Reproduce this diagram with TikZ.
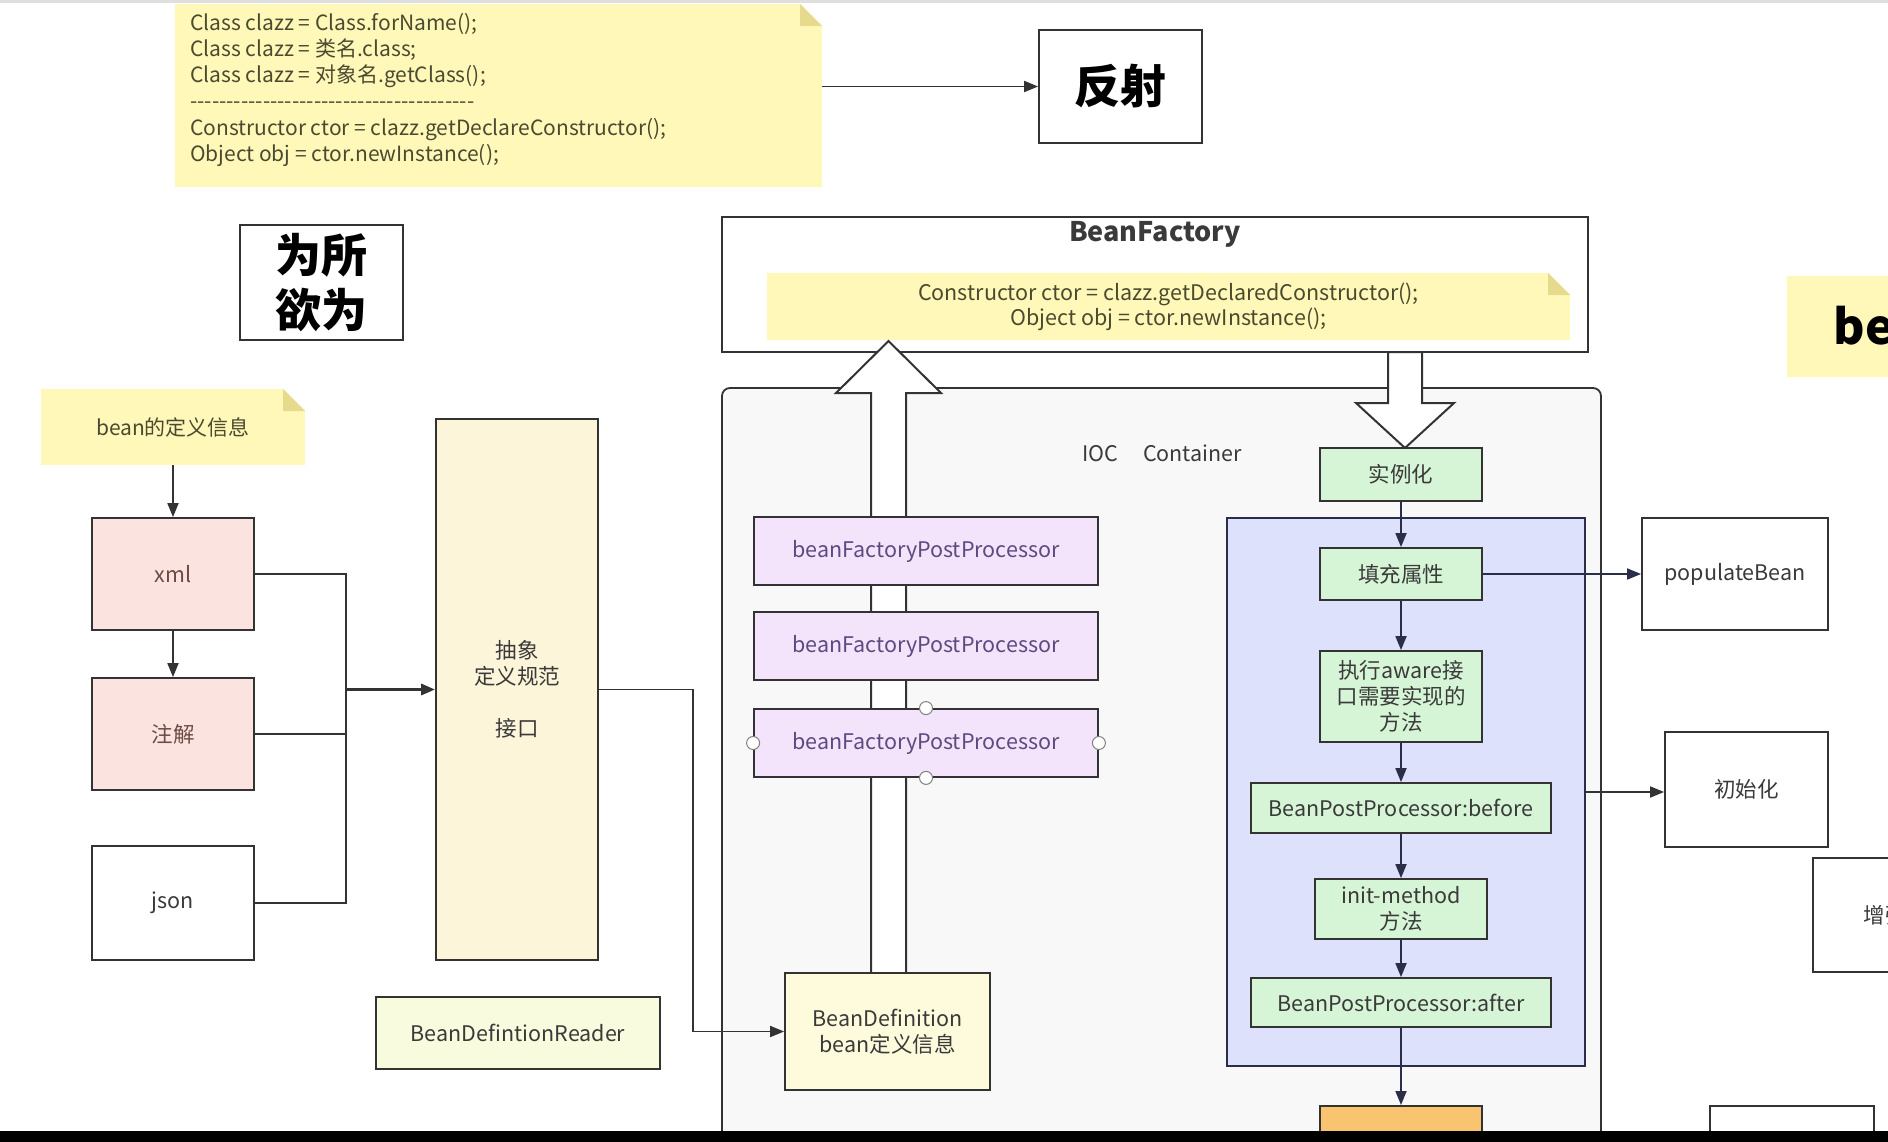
\documentclass[tikz,border=0pt]{standalone}
\usepackage{fontspec}
\setmainfont{Noto Sans CJK SC}
\usetikzlibrary{arrows.meta}

\definecolor{linec}{HTML}{333333}
\definecolor{txt}{HTML}{3A3A3A}
\definecolor{notey}{HTML}{FFF8B8}
\definecolor{foldy}{HTML}{E6DB8C}
\definecolor{notetxt}{HTML}{4A4A30}
\definecolor{pinkc}{HTML}{FBE4DF}
\definecolor{pinktxt}{HTML}{6E4A44}
\definecolor{creamc}{HTML}{FDF5DA}
\definecolor{bdc}{HTML}{FDFBDB}
\definecolor{readerc}{HTML}{F8FBDD}
\definecolor{purplec}{HTML}{F3E4FB}
\definecolor{purpletxt}{HTML}{5E4A80}
\definecolor{greenc}{HTML}{D6F5D6}
\definecolor{bluec}{HTML}{DDE1FC}
\definecolor{navy}{HTML}{2A2E48}
\definecolor{iocc}{HTML}{F8F8F8}
\definecolor{orangec}{HTML}{F8C470}

\newcommand\dashrow{\foreach \k in {1,...,39}{-{}}}

\tikzset{
    box/.style={draw=linec, line width=1.8pt, fill=white, text=txt,
        font=\fontsize{21.5}{26}\selectfont, align=center, inner sep=0pt},
    note/.style={fill=notey, draw=none, text=notetxt, inner sep=0pt,
        font=\fontsize{21}{26}\selectfont,
        path picture={
            \fill[white] (path picture bounding box.north east) -- ++(-22pt,0pt)
                -- ++(22pt,-22pt) -- cycle;
            \fill[foldy] (path picture bounding box.north east) ++(-22pt,0pt)
                -- ++(22pt,-22pt) -- ++(-22pt,0pt) -- cycle;}},
    title/.style={box, font=\bfseries\fontsize{46}{55}\selectfont, text=black},
    greenbox/.style={box, fill=greenc},
    pfp/.style={box, fill=purplec, text=purpletxt, minimum width=344pt,
        minimum height=68pt},
    handle/.style={circle, draw=gray, fill=white, line width=1pt,
        minimum size=13pt, inner sep=0pt},
    ln/.style={draw=linec, line width=1.8pt},
    arr/.style={ln, -{Triangle[length=14pt,width=11pt]}},
    narr/.style={arr, draw=navy},
    hollow/.style={draw=linec, line width=2pt, fill=white},
}

\begin{document}
\begin{tikzpicture}[x=1pt, y=-1pt]
    \useasboundingbox (0,0) rectangle (1888,1142);
    \clip (0,0) rectangle (1888,1142);
    \fill[gray!25] (0,0) rectangle (1888,3);

    % reflection note and title
    \node[note, anchor=north west, minimum width=647pt, minimum height=183pt]
        (refnote) at (175,4) {};
    \node[anchor=north west, inner sep=0pt, align=left, text=notetxt,
        font=\fontsize{21}{26.2}\selectfont] (reftext) at (190,13)
        {Class clazz = Class.forName();\\
         Class clazz = 类名.class;\\
         Class clazz = 对象名.getClass();\\
         \dashrow\\
         Constructor ctor = clazz.getDeclareConstructor();\\
         Object obj = ctor.newInstance();};
    \node[title, minimum width=163pt, minimum height=113pt] (fanshe)
        at (1120.5,86.5) {反射};
    \draw[arr] (refnote.east |- fanshe.west) -- (fanshe.west);

    \node[title, minimum width=163pt, minimum height=115pt] (wsyw)
        at (321.5,282.5) {为所\\欲为};

    % ioc container and bean factory
    \draw[line width=1.8pt, draw=linec, fill=iocc, rounded corners=8pt]
        (722,388) rectangle (1601,1200);
    \node[text=txt, font=\fontsize{21.5}{26}\selectfont] (ioclabel)
        at (1162,453) {IOC\hspace{25pt}Container};

    \node[box, minimum width=866pt, minimum height=135pt] (bf) at (1155,284.5) {};
    \node[font=\bfseries\fontsize{27}{30}\selectfont, text=txt] (bftitle)
        at (1155,234) {BeanFactory};
    \node[note, minimum width=803pt, minimum height=67pt, align=center,
        font=\fontsize{21.5}{25}\selectfont] (bfnote) at (1168.5,306.5)
        {Constructor ctor = clazz.getDeclaredConstructor();\\
         Object obj = ctor.newInstance();};

    \fill[notey] (1787,276) rectangle (1900,377);
    \node[anchor=west, font=\bfseries\fontsize{48}{55}\selectfont, text=black]
        (benote) at (1830,326) {be};

    % block arrows
    \draw[hollow] (871,973) -- (871,393) -- (836,393) -- (888.5,341)
        -- (941,393) -- (906,393) -- (906,973) -- cycle;
    \draw[hollow] (1388,352) -- (1388,403) -- (1356,403) -- (1405,448)
        -- (1454,403) -- (1422,403) -- (1422,352) -- cycle;

    \node[pfp] (pfpa) at (926,551) {beanFactoryPostProcessor};
    \node[pfp] (pfpb) at (926,646) {beanFactoryPostProcessor};
    \node[pfp] (pfpc) at (926,743) {beanFactoryPostProcessor};
    \foreach \side in {north, south, east, west}
        \node[handle] (h\side) at (pfpc.\side) {};

    \node[box, fill=bdc, minimum width=205pt, minimum height=117pt] (bd)
        at (887.5,1031.5) {BeanDefinition\\bean定义信息};

    % bean definition sources
    \node[note, minimum width=264pt, minimum height=76pt,
        font=\fontsize{21}{25}\selectfont] (defnote) at (173,427) {bean的定义信息};
    \node[box, fill=pinkc, text=pinktxt, minimum width=162pt,
        minimum height=112pt] (xml) at (173,574) {xml};
    \node[box, fill=pinkc, text=pinktxt, minimum width=162pt,
        minimum height=112pt] (zhujie) at (173,734) {注解};
    \node[box, minimum width=162pt, minimum height=114pt] (json)
        at (173,903) {json};
    \draw[arr] (defnote) -- (xml);
    \draw[arr] (xml) -- (zhujie);

    \node[box, fill=creamc, minimum width=162pt, minimum height=541pt] (abs)
        at (517,689.5) {抽象\\定义规范\\ \\接口};
    \coordinate (jn) at (346,689.5);
    \draw[ln] (xml.east) -| (jn) |- (json.east);
    \draw[ln] (zhujie.east) -- (zhujie.east -| jn);
    \draw[arr, line width=3pt] (jn) -- (abs.west);
    \draw[arr] (abs.east) -- ++(94,0) |- (bd.west);

    \node[box, fill=readerc, minimum width=284pt, minimum height=72pt] (reader)
        at (518,1033) {BeanDefintionReader};

    % bean life cycle
    \node[greenbox, minimum width=162pt, minimum height=53pt] (inst)
        at (1401,474.5) {实例化};
    \node[draw=navy, line width=1.8pt, fill=bluec, minimum width=358pt,
        minimum height=548pt] (life) at (1406,792) {};
    \node[greenbox, minimum width=162pt, minimum height=52pt] (fill)
        at (1401,574) {填充属性};
    \node[greenbox, minimum width=162pt, minimum height=91pt] (aware)
        at (1401,696.5) {执行aware接\\口需要实现的\\方法};
    \node[greenbox, minimum width=300pt, minimum height=50pt] (before)
        at (1401,808) {BeanPostProcessor:before};
    \node[greenbox, minimum width=172pt, minimum height=60pt] (initm)
        at (1401,909) {init-method\\方法};
    \node[greenbox, minimum width=300pt, minimum height=49pt] (after)
        at (1401,1002.5) {BeanPostProcessor:after};
    \node[box, fill=orangec, minimum width=162pt, minimum height=60pt,
        anchor=north] (ready) at (1401,1105) {};
    \draw[narr] (inst) -- (fill);
    \draw[narr] (fill) -- (aware);
    \draw[narr] (aware) -- (before);
    \draw[narr] (before) -- (initm);
    \draw[narr] (initm) -- (after);
    \draw[narr] (after) -- (ready);

    \node[box, minimum width=186pt, minimum height=112pt] (populate)
        at (1735,574) {populateBean};
    \node[box, minimum width=163pt, minimum height=115pt] (initbox)
        at (1746.5,789.5) {初始化};
    \node[box, minimum width=163pt, minimum height=114pt, anchor=west] (enhance)
        at (1812,915) {};
    \node[anchor=west, text=txt, font=\fontsize{21.5}{26}\selectfont] (enhtext)
        at (1860,915) {增强};
    \node[box, minimum width=164pt, minimum height=60pt, anchor=north] (lastbox)
        at (1792,1105) {};
    \draw[narr] (fill) -- (populate);
    \draw[arr] (life.east) -- (initbox.west |- life.east);

    \fill[black] (0,1131) rectangle (1888,1142);
\end{tikzpicture}
\end{document}
